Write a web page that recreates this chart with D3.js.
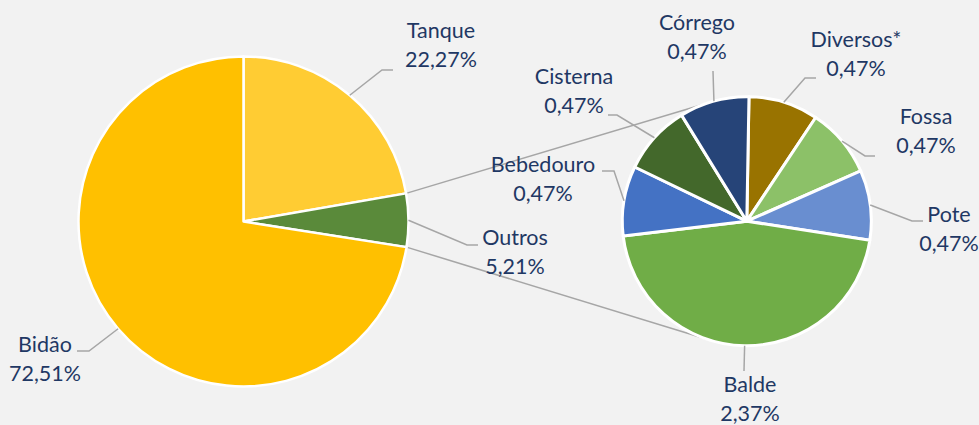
<!DOCTYPE html>
<html>
<head>
<meta charset="utf-8">
<script src="https://cdn.jsdelivr.net/npm/d3@7"></script>
<style>
  body { margin: 0; background: #f2f2f2; }
  svg { display: block; }
  .lbl { font-family: Lato, "Liberation Sans", sans-serif; font-size: 21.5px; fill: #1f3864; }
</style>
</head>
<body>
<svg width="979" height="425"></svg>
<script>
// Main pie (clockwise from 12 o'clock)
const mainNames = ["Tanque", "Outros", "Bidão"];
const mainValues = [22.27, 5.21, 72.51];
const mainColors = ["#ffcc33", "#5a8a3a", "#ffc000"];

// Breakdown of "Outros" (clockwise from 12 o'clock)
const subNames = ["Diversos*", "Fossa", "Pote", "Balde", "Bebedouro", "Cisterna", "Córrego"];
const subValues = [0.47, 0.47, 0.47, 2.37, 0.47, 0.47, 0.47];
const subColors = ["#997300", "#8cc168", "#698ed0", "#70ad47", "#4472c4", "#43682b", "#264478"];

// Label placement (text centre x, first baseline y) and leader elbow / end
const labelSpots = {
  "Tanque":    { x: 441, y: 38,  elbow: [382, 70],  end: [393, 70] },
  "Outros":    { x: 515, y: 245, elbow: [467, 245], end: [478, 245] },
  "Bidão":     { x: 45,  y: 352, elbow: [89, 351],  end: [77, 351] },
  "Córrego":   { x: 697, y: 30,  elbow: [713, 71],  end: [713, 71] },
  "Cisterna":  { x: 574, y: 84,  elbow: [617, 115], end: [608, 115] },
  "Bebedouro": { x: 543, y: 172, elbow: [614, 171], end: [602, 171] },
  "Diversos*": { x: 856, y: 47,  elbow: [805, 78],  end: [816, 78] },
  "Fossa":     { x: 926, y: 124, elbow: [865, 156], end: [875, 156] },
  "Pote":      { x: 949, y: 222, elbow: [912, 221], end: [923, 221] },
  "Balde":     { x: 750, y: 392, elbow: [744, 371], end: [744, 371] }
};

const svg = d3.select("svg");
const fmt = d3.formatLocale({ decimal: ",", thousands: ".", grouping: [3], currency: ["", ""] }).format(".2f");

const mainC = [243.5, 221.5], mainR = 165;
const subC = [746.8, 221.2], subR = 124.5;
const subRot = 1 * Math.PI / 180;

const mainArcs = d3.pie().sort(null).value(d => d)(mainValues);
const subArcs = d3.pie().sort(null).value(d => d)
  .startAngle(subRot).endAngle(2 * Math.PI + subRot)(subValues);

// connector lines from "Outros" edges to tangent points of the small pie
const outros = mainArcs[mainNames.indexOf("Outros")];
function edge(c, r, a) {
  const p = d3.pointRadial(a, r);
  return [c[0] + p[0], c[1] + p[1]];
}
function tangent(p, c, r, sign) {
  const dx = c[0] - p[0], dy = c[1] - p[1];
  const d = Math.hypot(dx, dy);
  const th = Math.atan2(dy, dx) + sign * Math.asin(r / d);
  const L = Math.sqrt(d * d - r * r);
  return [p[0] + L * Math.cos(th), p[1] + L * Math.sin(th)];
}
const pTop = edge(mainC, mainR, outros.startAngle);
const pBot = edge(mainC, mainR, outros.endAngle);
svg.append("g")
  .selectAll("line")
  .data([[pTop, tangent(pTop, subC, subR, -1)], [pBot, tangent(pBot, subC, subR, 1)]])
  .enter()
  .append("line")
  .attr("x1", d => d[0][0]).attr("y1", d => d[0][1])
  .attr("x2", d => d[1][0]).attr("y2", d => d[1][1])
  .attr("stroke", "#a6a6a6")
  .attr("stroke-width", 1.5);

function drawPie(arcs, names, colors, c, r, sw) {
  const arc = d3.arc().innerRadius(0).outerRadius(r);
  svg.append("g")
    .attr("transform", `translate(${c[0]},${c[1]})`)
    .selectAll("path")
    .data(arcs)
    .enter()
    .append("path")
    .attr("d", arc)
    .attr("fill", (d, i) => colors[i])
    .attr("stroke", "#fff")
    .attr("stroke-width", sw)
    .attr("stroke-linejoin", "round");

  // leader lines + labels
  arcs.forEach((d, i) => {
    const spot = labelSpots[names[i]];
    const start = edge(c, r, (d.startAngle + d.endAngle) / 2);
    svg.append("polyline")
      .attr("points", [start, spot.elbow, spot.end].map(p => p.join(",")).join(" "))
      .attr("fill", "none")
      .attr("stroke", "#a6a6a6")
      .attr("stroke-width", 1.5);

    const t = svg.append("text")
      .attr("class", "lbl")
      .attr("text-anchor", "middle");
    t.append("tspan").attr("x", spot.x).attr("y", spot.y).text(names[i]);
    t.append("tspan").attr("x", spot.x).attr("y", spot.y + 29).text(fmt(d.data) + "%");
  });
}

drawPie(mainArcs, mainNames, mainColors, mainC, mainR, 2.5);
drawPie(subArcs, subNames, subColors, subC, subR, 3);
</script>
</body>
</html>
